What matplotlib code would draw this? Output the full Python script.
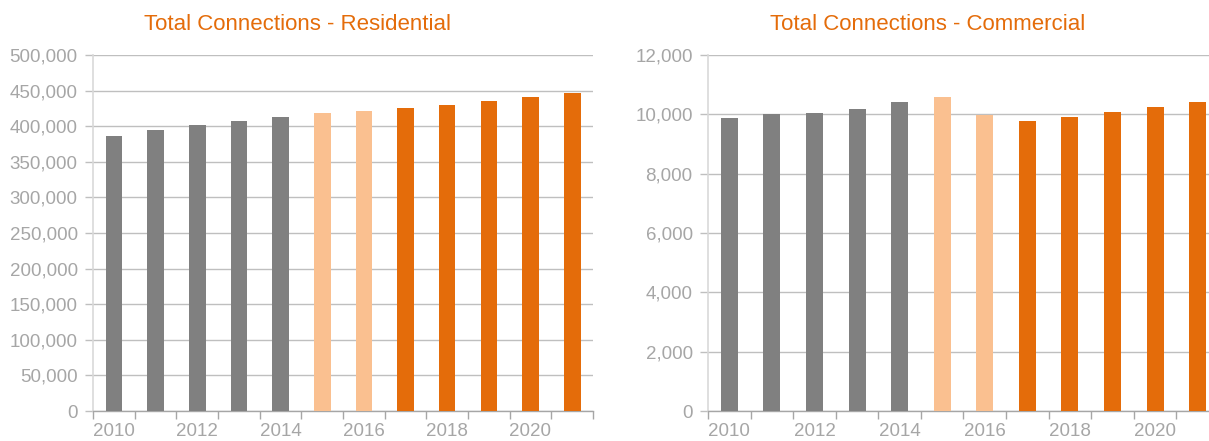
import matplotlib
matplotlib.use("Agg")
import matplotlib.pyplot as plt
from matplotlib.ticker import FuncFormatter, FixedLocator
import numpy as np

plt.rcParams['font.family'] = ['Liberation Sans', 'DejaVu Sans']

years = list(range(2010, 2022))
residential = [386000, 394500, 401500, 407000, 413000, 418500, 421300,
               425000, 430000, 435300, 441000, 446500]
commercial = [9880, 10020, 10045, 10180, 10410, 10590, 9990,
              9780, 9900, 10075, 10245, 10420]
# actual (2010-2014), estimate (2015-2016), forecast (2017-2021)
bar_colors = ['#808080'] * 5 + ['#FAC090'] * 2 + ['#E46C0A'] * 5

TITLE_COLOR = '#E46C0A'
TEXT_GRAY = '#A6A6A6'
GRID_GRAY = '#BFBFBF'

W, H = 1209, 441
fig = plt.figure(figsize=(W / 100, H / 100), dpi=100)


def px_axes(x0, x1, y_top, y_bot):
    return fig.add_axes([x0 / W, (H - y_bot) / H, (x1 - x0) / W, (y_bot - y_top) / H])


def draw_panel(ax, values, ymax, ystep, title, title_x):
    n = len(years)
    x = np.arange(n)
    ax.bar(x, values, width=0.4, color=bar_colors, zorder=3)
    ax.set_xlim(-0.5, n - 0.5)
    ax.set_ylim(0, ymax)
    ax.set_yticks(np.arange(0, ymax + 1, ystep))
    ax.yaxis.set_major_formatter(FuncFormatter(lambda v, p: f"{int(v):,}"))
    ax.grid(axis='y', color=GRID_GRAY, linewidth=1.0, zorder=0)
    ax.set_axisbelow(True)

    # category boundaries as tick marks, labels every other year at centres
    ax.xaxis.set_major_locator(FixedLocator(np.arange(-0.5, n, 1.0)))
    ax.xaxis.set_major_formatter(FuncFormatter(lambda v, p: ''))
    ax.xaxis.set_minor_locator(FixedLocator(x[::2]))
    ax.set_xticklabels([str(y) for y in years[::2]], minor=True)
    ax.tick_params(axis='x', which='major', length=6, width=1, color='#A6A6A6', direction='out')
    ax.tick_params(axis='x', which='minor', length=0, pad=9, labelsize=13.5, labelcolor=TEXT_GRAY)
    ax.tick_params(axis='y', length=6, width=1, color=GRID_GRAY, pad=5, labelsize=13.5, labelcolor=TEXT_GRAY)

    for s in ['top', 'right']:
        ax.spines[s].set_visible(False)
    ax.spines['left'].set_color('#D9D9D9')
    ax.spines['left'].set_linewidth(1.2)
    ax.spines['bottom'].set_color('#A6A6A6')
    ax.spines['bottom'].set_linewidth(1.0)

    fig.text(title_x / W, 1 - 24 / H, title, color=TITLE_COLOR, fontsize=16,
             ha='center', va='center')


ax1 = px_axes(93, 593, 55, 411)
draw_panel(ax1, residential, 500000, 50000, 'Total Connections - Residential', 298)

ax2 = px_axes(708, 1219, 55, 411)
draw_panel(ax2, commercial, 12000, 2000, 'Total Connections - Commercial', 928)

fig.savefig('out.png', dpi=100)
